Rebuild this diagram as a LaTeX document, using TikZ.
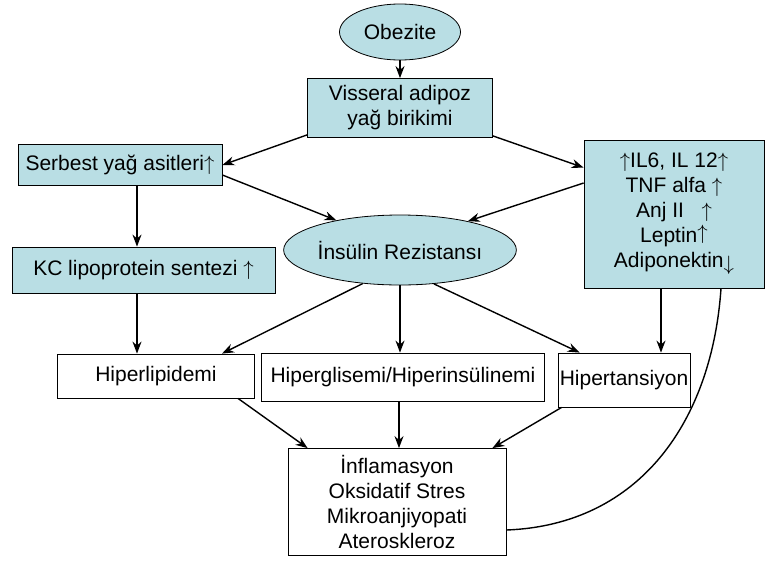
\documentclass[tikz,border=0pt]{standalone}
\usepackage{fontspec}
\setmainfont{Liberation Sans}
\usepackage{tikz}
\usetikzlibrary{positioning}
\usetikzlibrary{arrows.meta,shapes.geometric}
\definecolor{boxblue}{RGB}{185,222,228}
\newcommand{\incr}{$\uparrow$}
\newcommand{\decr}{$\downarrow$}
\tikzset{
  bluebox/.style={rectangle,draw,fill=boxblue,inner sep=0pt,line width=0.8pt,align=center},
  whitebox/.style={rectangle,draw,fill=white,inner sep=0pt,line width=0.8pt,align=center},
  blueoval/.style={ellipse,draw,fill=boxblue,inner sep=0pt,line width=0.8pt,align=center}
}

\begin{document}
\begin{tikzpicture}[>={Stealth[length=12pt,width=9pt]},x=1pt,y=-1pt,font=\fontsize{21}{25}\selectfont]
  \useasboundingbox (0,0) rectangle (766,560);
  \node[blueoval,minimum width=121pt,minimum height=56pt]  (Obezite)   at (400,32)    {Obezite};
  \node[bluebox,minimum width=185pt,minimum height=59pt]   (Visseral)  at (400,108)   {Visseral adipoz\\yağ birikimi};
  \node[bluebox,minimum width=204pt,minimum height=41pt]   (Serbest)   at (120,165)   {Serbest yağ asitleri\incr};
  \node[bluebox,minimum width=180pt,minimum height=148pt]  (Sitokin)   at (674,214)   {\incr IL6, IL 12\incr\\ TNF alfa \incr\\ Anj II \ \ \incr\\ Leptin\raisebox{3pt}{\incr}\\ Adiponektin\raisebox{-3pt}{\decr}};
  \node[blueoval,minimum width=196pt,minimum height=70pt]  (Insulin)   at (400,250)   {İnsülin Rezistansı};
  \node[bluebox,minimum width=263pt,minimum height=46pt]   (KC)        at (143.5,270) {KC lipoprotein sentezi \incr};
  \node[whitebox,minimum width=197pt,minimum height=44pt]  (Lipid)     at (156,376)   {Hiperlipidemi};
  \node[whitebox,minimum width=283pt,minimum height=48pt]  (Glisemi)   at (403,377)   {Hiperglisemi/Hiperinsülinemi};
  \node[whitebox,minimum width=132pt,minimum height=54pt]  (Tansiyon)  at (624,380)   {Hipertansiyon};
  \node[whitebox,minimum width=218pt,minimum height=107pt] (Sonuc)     at (397,502)   {İnflamasyon\\Oksidatif Stres\\Mikroanjiyopati\\Ateroskleroz};

  \path[->,line width=1.4pt]
            (Obezite) edge (Visseral)
   ([yshift=3pt]Visseral.south west) edge (Serbest.east)
   ([yshift=2pt]Visseral.south east) edge ([yshift=-28pt]Sitokin.north west)
  ([yshift=-10pt]Serbest.east)       edge (Insulin.155)
   ([yshift=31pt]Sitokin.west)       edge (Insulin.23)
   ([xshift=17pt]Serbest.south)      edge ([xshift=17pt]Serbest.south |- KC.north)
   ([xshift=-6.5pt]KC.south)         edge ([xshift=-6.5pt]KC.south |- Lipid.north)
            (Insulin.222) edge ([xshift=66pt]Lipid.north)
          (Insulin.south) edge (Insulin.south |- Glisemi.north)
            (Insulin.315) edge ([xshift=22pt]Tansiyon.north west)
   ([xshift=-13pt]Sitokin.south)     edge ([xshift=-13pt]Sitokin.south |- Tansiyon.north)
   ([xshift=82pt]Lipid.south)        edge ([xshift=20pt]Sonuc.north west)
   ([xshift=-4pt]Glisemi.south)      edge ([xshift=-4pt]Glisemi.south |- Sonuc.north)
   ([xshift=4pt]Tansiyon.south west) edge ([xshift=-14pt]Sonuc.north east);
  \draw[line width=1.4pt]
   ([xshift=47pt]Sitokin.south) .. controls +(-9,132) and +(134,-5) .. ([yshift=-28pt]Sonuc.east);
\end{tikzpicture}
\end{document}
